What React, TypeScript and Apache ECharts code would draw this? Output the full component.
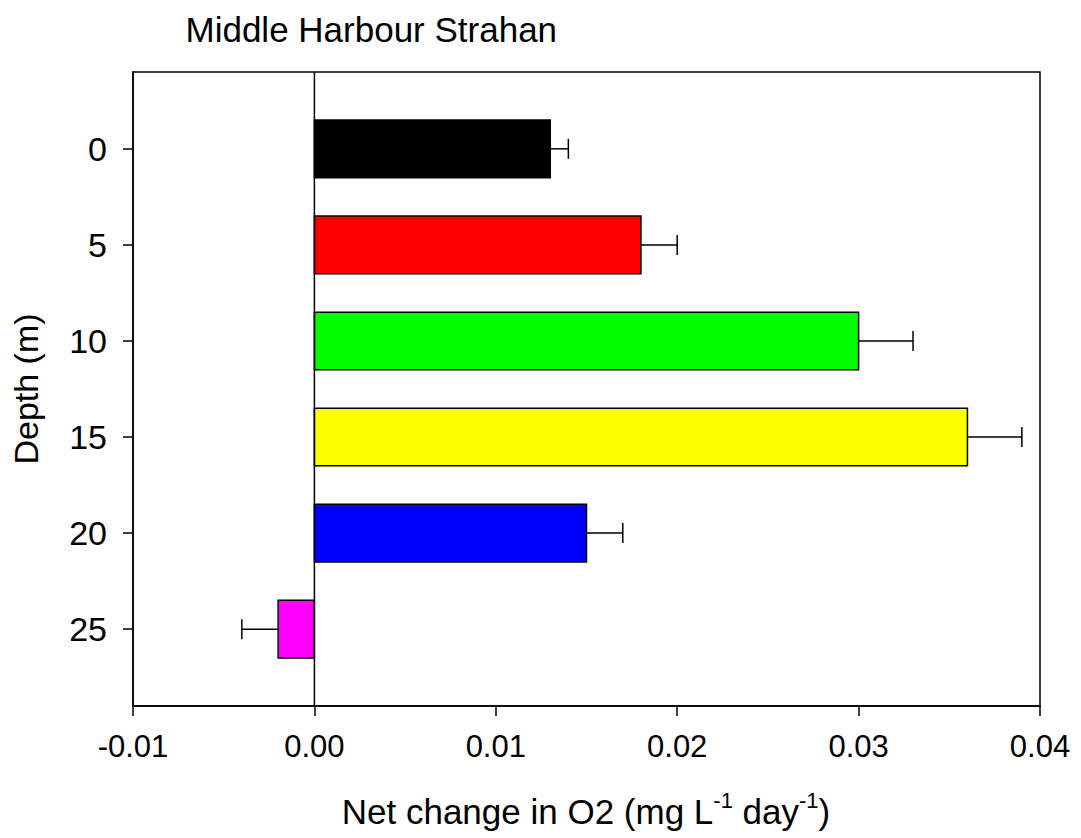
import React, { useEffect, useRef } from "react";
import * as echarts from "echarts";

// Depth layers (m) and their net O2 change with standard errors
const depths = [0, 5, 10, 15, 20, 25];
const netChange = [0.013, 0.018, 0.03, 0.036, 0.015, -0.002];
const stdError = [0.001, 0.002, 0.003, 0.003, 0.002, 0.002];
const barColors = ["#000000", "#ff0000", "#00ff00", "#ffff00", "#0000ff", "#ff00ff"];
const depthTicks = [0, 5, 10, 15, 20, 25];

const FONT = "'Liberation Sans', Arial, Helvetica, sans-serif";
const BAR_THICKNESS = 3; // in depth units

export default function App() {
  const ref = useRef<HTMLDivElement>(null);

  useEffect(() => {
    if (!ref.current) return;
    const chart = echarts.init(ref.current, null, { renderer: "svg" });

    const barData = depths.map((d, i) => [netChange[i], d, i]);
    const errData = depths.map((d, i) => [netChange[i], d, stdError[i]]);

    chart.setOption({
      animation: false,
      backgroundColor: "#ffffff",
      grid: {
        left: 133,
        right: 41,
        top: 72,
        bottom: 132,
        show: true,
        borderColor: "#000",
        borderWidth: 1.5,
        backgroundColor: "transparent",
      },
      xAxis: {
        type: "value",
        min: -0.01,
        max: 0.04,
        interval: 0.01,
        splitLine: { show: false },
        axisLine: { show: true, onZero: false, lineStyle: { color: "#000", width: 1.5 } },
        axisTick: { show: true, inside: false, length: 10, lineStyle: { color: "#000", width: 1.5 } },
        axisLabel: {
          color: "#000",
          fontFamily: FONT,
          fontSize: 31,
          margin: 25,
          formatter: (v: number) => v.toFixed(2),
        },
      },
      yAxis: {
        type: "value",
        min: -4,
        max: 29,
        inverse: true,
        splitLine: { show: false },
        axisLine: { show: true, onZero: false, lineStyle: { color: "#000", width: 1.5 } },
        axisTick: {
          show: true,
          inside: false,
          length: 10,
          customValues: depthTicks,
          lineStyle: { color: "#000", width: 1.5 },
        },
        axisLabel: {
          color: "#000",
          fontFamily: FONT,
          fontSize: 34,
          margin: 26,
          customValues: depthTicks,
        },
      },
      graphic: [
        {
          type: "text",
          x: 185.5,
          y: 29.5,
          style: {
            text: "Middle Harbour Strahan",
            font: `35px ${FONT}`,
            fill: "#000",
            align: "left",
            verticalAlign: "middle",
          },
        },
        {
          type: "text",
          x: 25.5,
          y: 389,
          rotation: Math.PI / 2,
          style: {
            text: "Depth (m)",
            font: `34px ${FONT}`,
            fill: "#000",
            align: "center",
            verticalAlign: "middle",
          },
        },
        {
          type: "text",
          x: 586,
          y: 811,
          style: {
            text: "{n|Net change in O2 (mg L}{s|-1}{n| day}{s|-1}{n|)}",
            align: "center",
            verticalAlign: "middle",
            fill: "#000",
            rich: {
              n: { fontFamily: FONT, fontSize: 35, fill: "#000", lineHeight: 44 },
              s: {
                fontFamily: FONT,
                fontSize: 22,
                fill: "#000",
                verticalAlign: "top",
                lineHeight: 22,
                padding: [0, 0, 16, 0],
              },
            },
          },
        },
      ],
      series: [
        {
          type: "custom",
          data: barData,
          encode: { x: 0, y: 1 },
          renderItem: (params: any, api: any) => {
            const v = api.value(0);
            const d = api.value(1);
            const idx = api.value(2);
            const p0 = api.coord([0, d]);
            const p1 = api.coord([v, d]);
            const h = Math.abs(api.size([0, BAR_THICKNESS])[1]);
            return {
              type: "rect",
              shape: {
                x: Math.min(p0[0], p1[0]),
                y: p0[1] - h / 2,
                width: Math.abs(p1[0] - p0[0]),
                height: h,
              },
              style: { fill: barColors[idx], stroke: "#000", lineWidth: 1.5 },
            };
          },
          z: 2,
        },
        {
          type: "custom",
          data: errData,
          encode: { x: 0, y: 1 },
          renderItem: (params: any, api: any) => {
            const v = api.value(0);
            const d = api.value(1);
            const e = api.value(2);
            const end = v + (v >= 0 ? e : -e);
            const a = api.coord([v, d]);
            const b = api.coord([end, d]);
            const cap = 10;
            return {
              type: "group",
              children: [
                {
                  type: "line",
                  shape: { x1: a[0], y1: a[1], x2: b[0], y2: b[1] },
                  style: { stroke: "#000", lineWidth: 1.5 },
                },
                {
                  type: "line",
                  shape: { x1: b[0], y1: b[1] - cap, x2: b[0], y2: b[1] + cap },
                  style: { stroke: "#000", lineWidth: 1.5 },
                },
              ],
            };
          },
          z: 3,
        },
        {
          // vertical reference line at zero change
          type: "line",
          data: [[0, -4], [0, 29]],
          symbol: "none",
          lineStyle: { color: "#000", width: 1.5 },
          z: 4,
        },
      ],
    });

    return () => chart.dispose();
  }, []);

  return (
    <div
      ref={ref}
      style={{ position: "fixed", left: 0, top: 0, width: 1081, height: 838 }}
    />
  );
}
